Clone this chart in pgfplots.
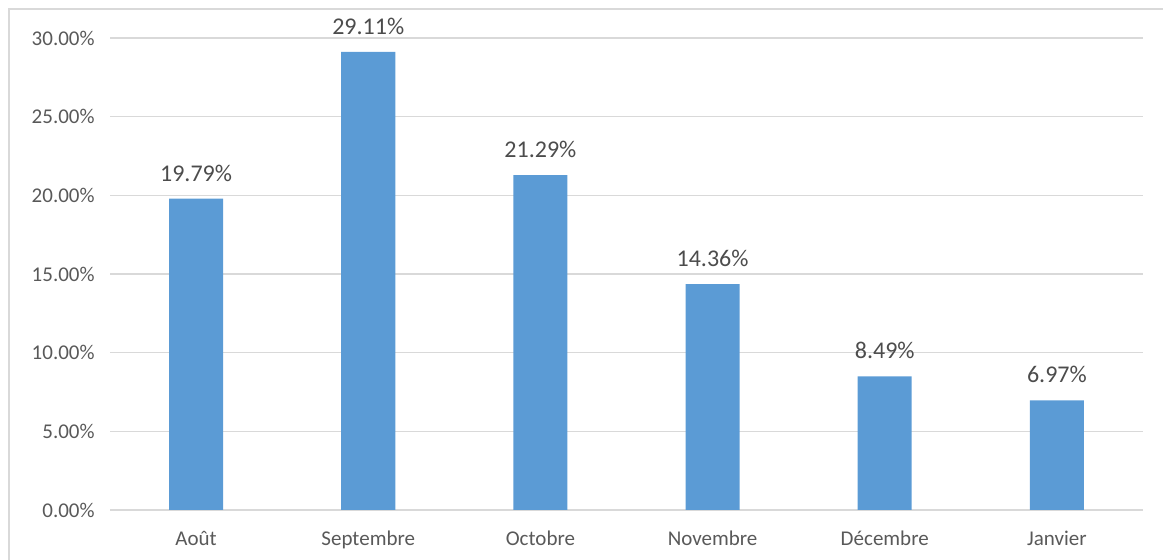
\documentclass[border=0pt]{standalone}
\usepackage{pgfplots}
\pgfplotsset{compat=1.18}
\usepackage{fontspec}
\setmainfont{Carlito}
\definecolor{barblue}{HTML}{5B9BD5}
\definecolor{gridgray}{HTML}{D9D9D9}
\definecolor{txtgray}{HTML}{595959}
\begin{document}
\fontsize{10.5}{12}\selectfont
\begin{tikzpicture}
\useasboundingbox (0,0) rectangle (581.5pt,280pt);
\draw[gridgray, line width=0.75pt] (4.5pt,-5pt) -- (4.5pt,275.5pt) -- (590pt,275.5pt);
\begin{axis}[
  at={(55pt,25pt)}, anchor=south west,
  scale only axis,
  width=516.5pt, height=236pt,
  xmin=-0.5, xmax=5.5,
  ymin=0, ymax=30,
  axis line style={draw=none},
  ybar, bar width=27pt,
  xtick=data,
  xticklabels={Août,Septembre,Octobre,Novembre,Décembre,Janvier},
  ytick={0,5,10,15,20,25,30},
  yticklabels={0.00\%,5.00\%,10.00\%,15.00\%,20.00\%,25.00\%,30.00\%},
  major tick length=0pt,
  ymajorgrids,
  grid style={gridgray, line width=0.75pt},
  tick label style={text=txtgray, font=\fontsize{10.5}{12}\selectfont},
  xticklabel style={yshift=-7pt},
  yticklabel style={xshift=-4pt},
  nodes near coords,
  point meta=explicit symbolic,
  every node near coord/.append style={text=txtgray!85!black, font=\fontsize{12}{13}\selectfont, anchor=south, yshift=5pt},
  clip=false,
]
\addplot[fill=barblue, draw=none] table[x=x, y=y, meta=label, row sep=\\] {
x y label\\
0 19.79 19.79\%\\
1 29.11 29.11\%\\
2 21.29 21.29\%\\
3 14.36 14.36\%\\
4 8.49 8.49\%\\
5 6.97 6.97\%\\
};
\end{axis}
\end{tikzpicture}
\end{document}
